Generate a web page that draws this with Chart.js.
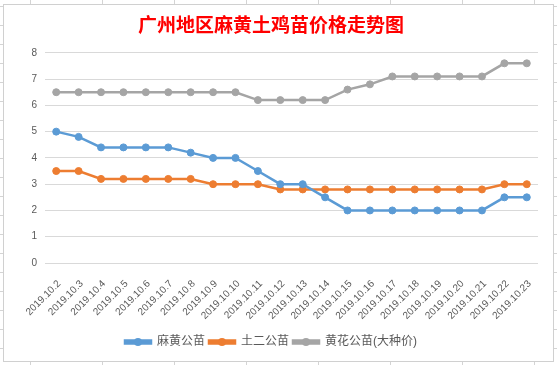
<!DOCTYPE html>
<html>

<head>
    <meta charset='utf-8'>
    <title>广州地区麻黄土鸡苗价格走势图</title>
    <script src="https://cdn.jsdelivr.net/npm/chart.js@4.4.0/dist/chart.umd.min.js"></script>
    <style>
        html, body {
            margin: 0;
            padding: 0;
            width: 557px;
            height: 365px;
            overflow: hidden;
            background-color: #fff;
            /* spreadsheet cell lines behind the chart */
            background-image: linear-gradient(to right, #d4d4d4 1px, transparent 1px),
                linear-gradient(to bottom, #d4d4d4 1px, transparent 1px);
            background-size: 72px 19px;
            background-position: 30px 6px;
        }

        #box {
            position: absolute;
            left: 3px;
            top: 4px;
            width: 551px;
            height: 358px;
            box-sizing: border-box;
            border: 1px solid #d0d0d0;
            background: #fff;
        }

        #chart {
            display: block;
        }
    </style>
</head>

<body>
    <div id="box">
        <canvas id="chart" width="549" height="356"></canvas>
    </div>
    <script>
        var labels = ['2019.10.2', '2019.10.3', '2019.10.4', '2019.10.5', '2019.10.6', '2019.10.7',
            '2019.10.8', '2019.10.9', '2019.10.10', '2019.10.11', '2019.10.12', '2019.10.13',
            '2019.10.14', '2019.10.15', '2019.10.16', '2019.10.17', '2019.10.18', '2019.10.19',
            '2019.10.20', '2019.10.21', '2019.10.22', '2019.10.23'];
        // 麻黄公苗
        var mahuang = [5.0, 4.8, 4.4, 4.4, 4.4, 4.4, 4.2, 4.0, 4.0, 3.5, 3.0, 3.0,
            2.5, 2.0, 2.0, 2.0, 2.0, 2.0, 2.0, 2.0, 2.5, 2.5];
        // 土二公苗
        var tuer = [3.5, 3.5, 3.2, 3.2, 3.2, 3.2, 3.2, 3.0, 3.0, 3.0, 2.8, 2.8,
            2.8, 2.8, 2.8, 2.8, 2.8, 2.8, 2.8, 2.8, 3.0, 3.0];
        // 黄花公苗(大种价)
        var huanghua = [6.5, 6.5, 6.5, 6.5, 6.5, 6.5, 6.5, 6.5, 6.5, 6.2, 6.2, 6.2,
            6.2, 6.6, 6.8, 7.1, 7.1, 7.1, 7.1, 7.1, 7.6, 7.6];

        var txt = '#595959';
        var boxW = 26;

        function line(label, data, color) {
            return {
                label: label,
                data: data,
                borderColor: color,
                backgroundColor: color,
                borderWidth: 2.5,
                pointRadius: 3.5,
                pointBorderWidth: 1,
                pointBackgroundColor: color,
                pointBorderColor: color,
                tension: 0
            };
        }

        // legend marker: line + dot in the middle
        var legendDots = {
            id: 'legendDots',
            afterDraw: function (chart) {
                var lg = chart.legend;
                if (!lg || !lg.legendHitBoxes) return;
                var ctx = chart.ctx;
                lg.legendHitBoxes.forEach(function (hb, i) {
                    ctx.save();
                    ctx.fillStyle = chart.data.datasets[i].borderColor;
                    ctx.beginPath();
                    ctx.arc(hb.left + boxW / 2, hb.top + 6, 4, 0, Math.PI * 2);
                    ctx.fill();
                    ctx.restore();
                });
            }
        };

        var ctx = document.getElementById('chart').getContext('2d');
        var chart = new Chart(ctx, {
            type: 'line',
            data: {
                labels: labels,
                datasets: [
                    line('麻黄公苗', mahuang, '#5b9bd5'),
                    line('土二公苗', tuer, '#ed7d31'),
                    line('黄花公苗(大种价)', huanghua, '#a5a5a5')
                ]
            },
            options: {
                responsive: false,
                animation: false,
                layout: {
                    padding: { left: 0, right: 15, top: 0, bottom: 3 }
                },
                scales: {
                    x: {
                        offset: true,
                        grid: { display: false },
                        border: { display: false },
                        ticks: {
                            color: txt,
                            font: { family: 'Liberation Sans', size: 10 },
                            minRotation: 45,
                            maxRotation: 45,
                            autoSkip: false,
                            padding: 7,
                            labelOffset: 3
                        },
                        afterFit: function (s) { s.height = 69; }
                    },
                    y: {
                        min: 0,
                        max: 8,
                        grid: { color: '#d9d9d9', drawTicks: false },
                        border: { display: false },
                        ticks: {
                            stepSize: 1,
                            color: txt,
                            font: { family: 'Liberation Sans', size: 10 },
                            padding: 8
                        },
                        afterFit: function (s) { s.width = 41; }
                    }
                },
                plugins: {
                    title: {
                        display: true,
                        text: '广州地区麻黄土鸡苗价格走势图',
                        color: '#ff0000',
                        font: { family: 'Noto Sans CJK SC', size: 19, weight: 'bold' },
                        padding: { top: 8, bottom: 17 }
                    },
                    legend: {
                        position: 'bottom',
                        labels: {
                            color: txt,
                            font: { family: "'Liberation Sans', 'Noto Sans CJK SC'", size: 12 },
                            boxWidth: boxW,
                            boxHeight: 3,
                            padding: 4
                        }
                    },
                    tooltip: { enabled: false }
                }
            },
            plugins: [legendDots]
        });
    </script>
</body>

</html>
